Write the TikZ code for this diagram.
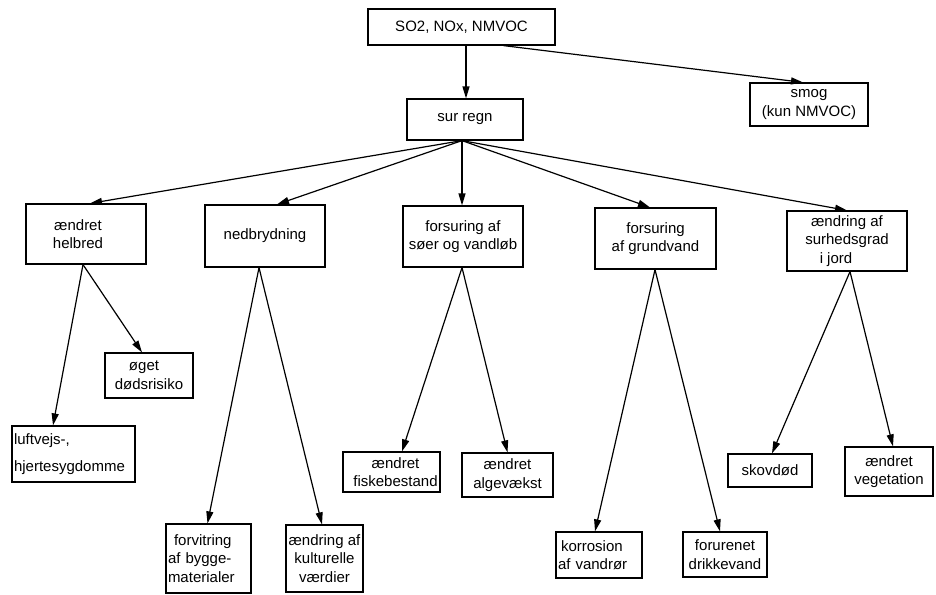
\documentclass[tikz,border=0pt]{standalone}
\usepackage{fontspec}
\setmainfont{Liberation Sans}
\usetikzlibrary{arrows.meta}
\begin{document}
\begin{tikzpicture}[x=1pt,y=-1pt,
  box/.style={draw, line width=1.2pt, rectangle, inner sep=0pt, align=center,
    font=\fontsize{15}{18.5}\selectfont},
  leftbox/.style={box, align=left, inner xsep=2pt},
  link/.style={line width=1.2pt, -{Triangle[length=12pt,width=7pt]}}]
\useasboundingbox (0,0) rectangle (936,594);

% top level
\node[box, minimum width=187pt, minimum height=36pt] (src) at (461.5,27) {SO2, NOx, NMVOC};
\node[box, minimum width=116pt, minimum height=41pt] (acid) at (465,119.5) {sur regn};
\node[box, minimum width=118pt, minimum height=43pt] (smog) at (809,104.5) {smog\\(kun NMVOC)};

% effects of acid rain
\node[box, minimum width=120pt, minimum height=60pt] (health) at (86,234) {ændret\hspace*{16pt}\\helbred\hspace*{16pt}};
\node[box, minimum width=120pt, minimum height=62pt] (decay) at (265,236) {nedbrydning};
\node[box, minimum width=120pt, minimum height=61pt] (lakes) at (463,236.5) {forsuring af\\søer og vandløb};
\node[box, minimum width=121pt, minimum height=61pt] (ground) at (655.5,238.5) {forsuring\\af grundvand};
\node[box, minimum width=120pt, minimum height=60pt] (soil) at (847,241) {ændring af\\surhedsgrad\\i jord\hspace*{22pt}};

% consequences
\node[box, minimum width=88pt, minimum height=45pt] (death) at (149,375.5) {øget\hspace*{10pt}\\dødsrisiko};
\node[leftbox, text width=119pt, minimum height=56pt, font=\fontsize{15}{27}\selectfont] (lungs) at (73.5,454) {luftvejs-,\\hjertesygdomme};
\node[leftbox, text width=81pt, minimum height=69pt] (weather) at (208.5,558.5) {\hspace*{6pt}forvitring\\af bygge-\\materialer};
\node[box, minimum width=77pt, minimum height=67pt] (culture) at (324.5,558.5) {ændring af\\kulturelle\\værdier};
\node[box, minimum width=97pt, minimum height=40pt] (fish) at (391.5,472) {\hspace*{8pt}ændret\\\hspace*{8pt}fiskebestand};
\node[box, minimum width=91pt, minimum height=44pt] (algae) at (507.5,475) {ændret\\algevækst};
\node[leftbox, text width=82pt, minimum height=46pt] (pipes) at (599,555) {\hspace*{3pt}korrosion\\af vandrør};
\node[box, minimum width=84pt, minimum height=45pt] (water) at (725,554.5) {forurenet\\drikkevand};
\node[box, minimum width=84pt, minimum height=33pt] (forest) at (770,470.5) {skovdød};
\node[box, minimum width=88pt, minimum height=49pt] (plants) at (889,471.5) {ændret\\vegetation};

% connectors
\draw[link] ([xshift=4.5pt]src.south) -- ([xshift=1pt]acid.north);
\draw[link] ([xshift=42pt]src.south) -- ([xshift=-6pt]smog.north);

\draw[link] ([xshift=-3pt]acid.south) -- ([xshift=4pt]health.north);
\draw[link] ([xshift=-3pt]acid.south) -- ([xshift=12pt]decay.north);
\draw[link] ([xshift=-3pt]acid.south) -- ([xshift=-1pt]lakes.north);
\draw[link] ([xshift=-3pt]acid.south) -- ([xshift=-5.5pt]ground.north);
\draw[link] ([xshift=-3pt]acid.south) -- (soil.north);

\draw[link] ([xshift=-3pt]health.south) -- ([xshift=-20.5pt]lungs.north);
\draw[link] ([xshift=-3pt]health.south) -- ([xshift=-7pt]death.north);
\draw[link] ([xshift=-6pt]decay.south) -- ([xshift=-1pt]weather.north);
\draw[link] ([xshift=-6pt]decay.south) -- ([xshift=-2.5pt]culture.north);
\draw[link] ([xshift=-1pt]lakes.south) -- ([xshift=10.5pt]fish.north);
\draw[link] ([xshift=-1pt]lakes.south) -- (algae.north);
\draw[link] ([xshift=-0.5pt]ground.south) -- ([xshift=-4pt]pipes.north);
\draw[link] ([xshift=-0.5pt]ground.south) -- ([xshift=-5pt]water.north);
\draw[link] ([xshift=3pt]soil.south) -- ([xshift=2pt]forest.north);
\draw[link] ([xshift=3pt]soil.south) -- ([xshift=4pt]plants.north);
\end{tikzpicture}
\end{document}
